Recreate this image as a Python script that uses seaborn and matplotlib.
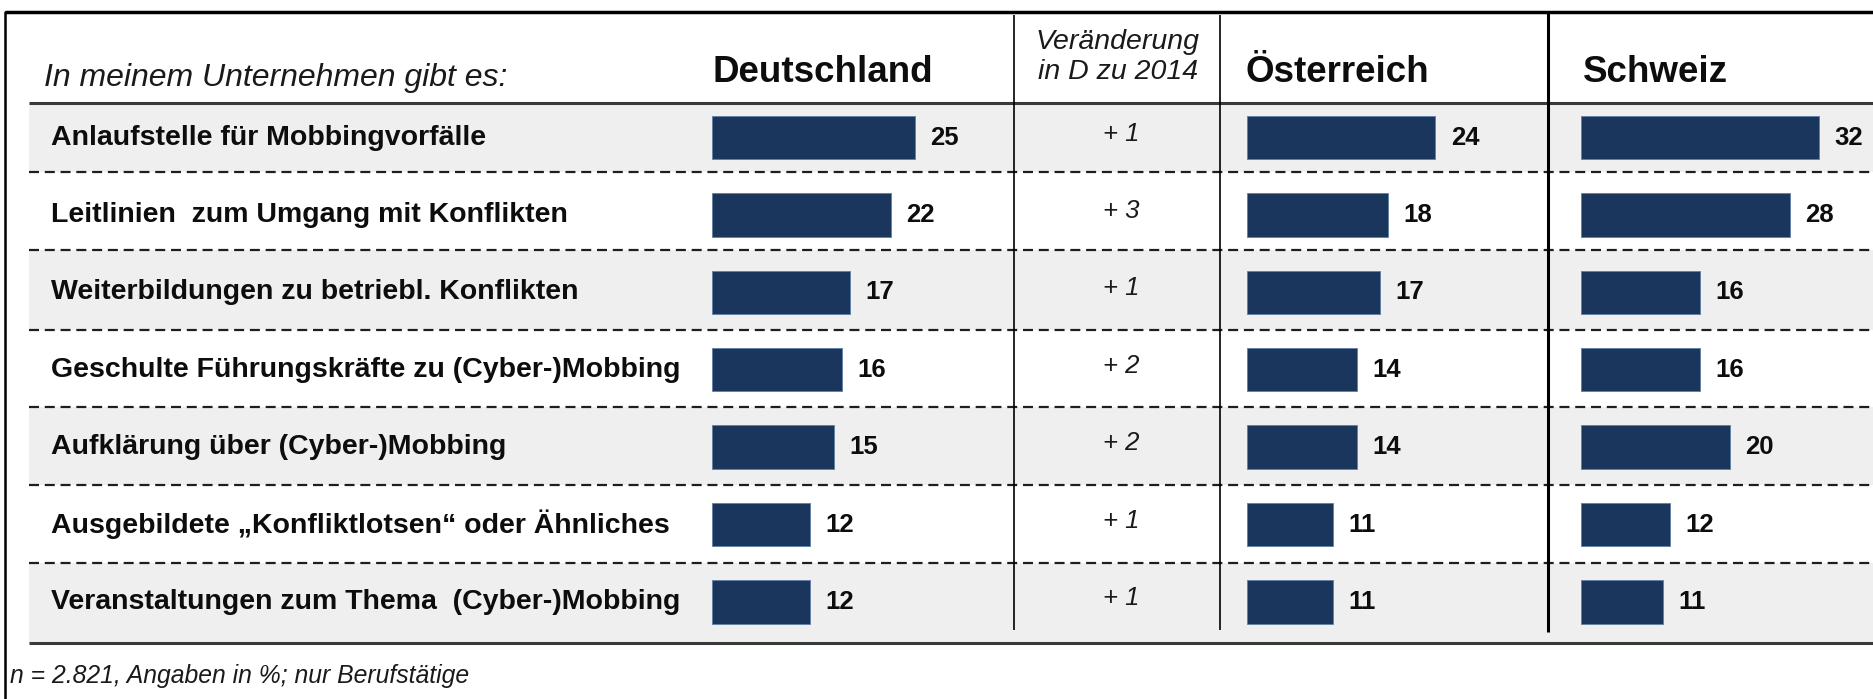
import matplotlib
matplotlib.use("Agg")
import matplotlib.pyplot as plt
import seaborn as sns
from matplotlib.transforms import blended_transform_factory

# Daten (Angaben in %)
items = [
    "Anlaufstelle für Mobbingvorfälle",
    "Leitlinien  zum Umgang mit Konflikten",
    "Weiterbildungen zu betriebl. Konflikten",
    "Geschulte Führungskräfte zu (Cyber-)Mobbing",
    "Aufklärung über (Cyber-)Mobbing",
    "Ausgebildete \u201eKonfliktlotsen\u201c oder Ähnliches",
    "Veranstaltungen zum Thema  (Cyber-)Mobbing",
]
deutschland = [25, 22, 17, 16, 15, 12, 12]
veraenderung = [1, 3, 1, 2, 2, 1, 1]
oesterreich = [24, 18, 17, 14, 14, 11, 11]
schweiz = [32, 28, 16, 16, 20, 12, 11]

sns.set_theme(style="white")
plt.rcParams['font.family'] = ['Liberation Sans', 'DejaVu Sans']

W, H = 1874, 699
navy = "#1b365d"
shade = "#efefef"
ink = "#0d0d0d"

fig = plt.figure(figsize=(W / 100, H / 100), dpi=100)
bg = fig.add_axes([0, 0, 1, 1])
bg.set_xlim(0, W)
bg.set_ylim(H, 0)
bg.axis("off")

# table layout (pixels)
row_edges = [103, 172, 250, 330, 407, 485, 563, 643]
x0 = 29
for i in range(len(items)):
    if i % 2 == 0:
        bg.axhspan(row_edges[i], row_edges[i + 1], xmin=x0 / W, xmax=1, color=shade, lw=0, zorder=0)
bg.hlines(row_edges[1:-1], x0, W, colors="#1e1e1e", linestyles=(0, (4.5, 2.6)), lw=1.6, zorder=2)
bg.hlines([row_edges[0], row_edges[-1]], x0, W, colors="#3a3a3a", lw=2.2, zorder=2)
# outer frame
bg.plot([5, W], [12, 12], color="black", lw=2.5, solid_capstyle="butt")
bg.plot([5, 5], [12, H], color="black", lw=1.8)
# column separators
bg.vlines([1014, 1220], 15, 630, colors="black", lw=1.2, zorder=3)
bg.vlines([1548], 12, 632, colors="black", lw=2.2, zorder=3)

# header
bg.text(44, 78, "In meinem Unternehmen gibt es:", style="italic", fontsize=23,
        va="center", ha="left", color="#1a1a1a")
for x, name in [(713, "Deutschland"), (1246, "Österreich"), (1583, "Schweiz")]:
    bg.text(x, 72, name, fontsize=26.5, fontweight="bold", va="center", ha="left", color=ink)
bg.text(1118, 57, "Veränderung\nin D zu 2014", style="italic", fontsize=20.5,
        ha="center", va="center", linespacing=1.2, color="#1a1a1a")

# footnote
bg.text(10, 676, "n = 2.821, Angaben in %; nur Berufstätige", style="italic",
        fontsize=17.8, va="center", ha="left", color="#1a1a1a")

# bar panels
top_px, bot_px = 98.8, 640.7


def panel(left_px, px_per_unit, xmax, values):
    ax = fig.add_axes([left_px / W, 1 - bot_px / H, px_per_unit * xmax / W, (bot_px - top_px) / H])
    sns.barplot(x=values, y=items, orient="h", color=navy, saturation=1, width=0.56,
                edgecolor="#5f7fa6", linewidth=0.6, ax=ax)
    ax.set_xlim(0, xmax)
    ax.set_ylim(len(items) - 0.5, -0.5)
    ax.axis("off")
    ax.patch.set_alpha(0)
    ax.bar_label(ax.containers[0], padding=11, fontsize=18.5, fontweight="bold", color=ink)
    return ax


ax_de = panel(712.5, 8.1, 30, deutschland)
panel(1247, 7.85, 30, oesterreich)
panel(1581, 7.45, 35, schweiz)

trans = blended_transform_factory(bg.transData, ax_de.transData)
for i, (label, d) in enumerate(zip(items, veraenderung)):
    bg.text(51, i, label, transform=trans, fontsize=20.5, fontweight="bold",
            va="center", ha="left", color=ink)
    bg.text(1121, i - 0.05, f"+ {d}", transform=trans, fontsize=18.5, style="italic",
            va="center", ha="center", color="#1a1a1a")

fig.savefig("out.png", dpi=100)
